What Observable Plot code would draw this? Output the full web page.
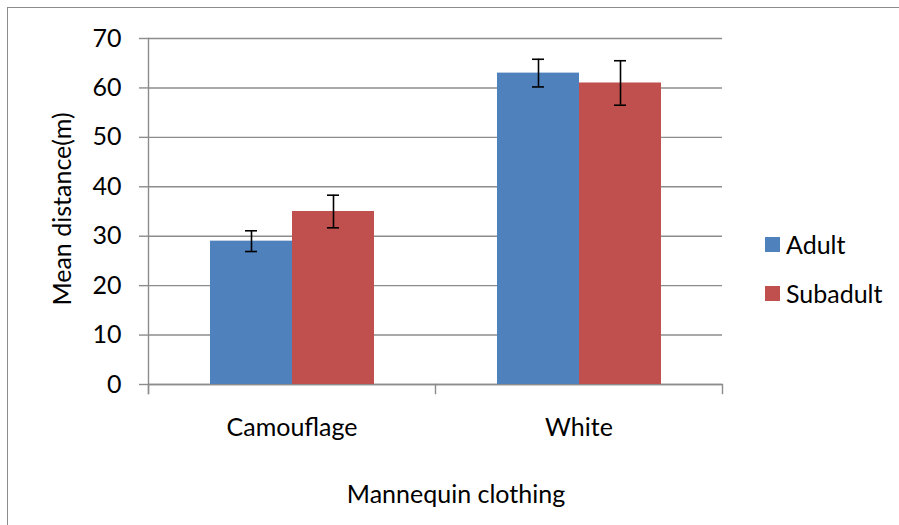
<!DOCTYPE html>
<html>
<head>
<meta charset="utf-8">
<script src="https://cdn.jsdelivr.net/npm/d3@7"></script>
<script src="https://cdn.jsdelivr.net/npm/@observablehq/plot@0.6"></script>
<style>
  html, body { margin: 0; padding: 0; background: #fff; }
  #wrap { position: relative; width: 899px; height: 525px; overflow: hidden; font-family: Lato, "Liberation Sans", sans-serif; color: #000; }
  #border { position: absolute; left: 7px; top: 7px; width: 1000px; height: 1000px; border-left: 1.6px solid #8c8c8c; border-top: 1.6px solid #8c8c8c; }
  #chart { position: absolute; left: 0; top: 0; }
  .lbl { position: absolute; font-size: 25px; white-space: nowrap; line-height: 1; }
  .sw { position: absolute; width: 15px; height: 15px; }
</style>
</head>
<body>
<div id="wrap">
  <div id="border"></div>
  <div id="chart"></div>
</div>
<script>
// ---- data ----
const categories = ["Camouflage", "White"];
const series = ["Adult", "Subadult"];
const adultMeans = [29, 63];
const subadultMeans = [35, 61];
const adultErr = [2.1, 2.8];
const subadultErr = [3.3, 4.5];
const colors = ["#4F81BD", "#C0504D"];
const yTicks = [0, 10, 20, 30, 40, 50, 60, 70];
const xTitle = "Mannequin clothing";
const yTitle = "Mean distance(m)";

// long table built from the arrays
const rows = [];
categories.forEach((c, i) => {
  rows.push({category: c, series: series[0], value: adultMeans[i], err: adultErr[i]});
  rows.push({category: c, series: series[1], value: subadultMeans[i], err: subadultErr[i]});
});

const W = 899, H = 525, mL = 147, mR = 177, mT = 38, mB = 141;
const innerH = H - mT - mB;
const grey = "#8c8c8c";

const chart = Plot.plot({
  width: W, height: H,
  marginLeft: mL, marginRight: mR, marginTop: mT, marginBottom: mB,
  style: {fontFamily: "Lato, 'Liberation Sans', sans-serif", fontSize: "25px", background: "transparent", color: "#000", overflow: "visible"},
  fx: {domain: categories, padding: 0, label: null},
  x: {domain: series, paddingInner: 0, paddingOuter: 0.742, axis: null},
  y: {domain: [0, 70], label: null},
  color: {domain: series, range: colors},
  marks: [
    Plot.gridY(yTicks, {stroke: grey, strokeOpacity: 1, strokeWidth: 1.4}),
    Plot.ruleY([0], {stroke: grey, strokeWidth: 1.4}),
    Plot.frame({anchor: "left", facetAnchor: "left", stroke: grey, strokeWidth: 1.4, insetBottom: -9}),
    Plot.frame({anchor: "left", stroke: grey, strokeWidth: 1.4, insetTop: innerH, insetBottom: -9}),
    Plot.frame({anchor: "right", facetAnchor: "right", stroke: grey, strokeWidth: 1.4, insetTop: innerH, insetBottom: -9}),
    Plot.axisY(yTicks, {tickSize: 9, tickPadding: 18, stroke: grey, strokeWidth: 1.4, label: null, fill: "#000"}),
    Plot.axisFx({anchor: "bottom", tickSize: 0, tickPadding: 34, label: null}),
    Plot.barY(rows, {fx: "category", x: "series", y: "value", fill: "series"}),
    Plot.ruleX(rows, {fx: "category", x: "series", y1: d => d.value - d.err, y2: d => d.value + d.err, stroke: "#000", strokeWidth: 1.6}),
    Plot.tickY(rows, {fx: "category", x: "series", y: d => d.value - d.err, stroke: "#000", strokeWidth: 1.6, insetLeft: 35, insetRight: 35}),
    Plot.tickY(rows, {fx: "category", x: "series", y: d => d.value + d.err, stroke: "#000", strokeWidth: 1.6, insetLeft: 35, insetRight: 35})
  ]
});
document.getElementById("chart").appendChild(chart);

const wrap = document.getElementById("wrap");
// axis titles
const xt = document.createElement("div");
xt.className = "lbl"; xt.textContent = xTitle;
xt.style.left = "456px"; xt.style.top = "493px"; xt.style.transform = "translate(-50%, -50%)";
wrap.appendChild(xt);
const yt = document.createElement("div");
yt.className = "lbl"; yt.textContent = yTitle;
yt.style.left = "61px"; yt.style.top = "209px"; yt.style.transform = "translate(-50%, -50%) rotate(-90deg)";
wrap.appendChild(yt);
// legend
series.forEach((s, i) => {
  const top = 237 + i * 49;
  const sw = document.createElement("div");
  sw.className = "sw"; sw.style.left = "765px"; sw.style.top = top + "px"; sw.style.background = colors[i];
  wrap.appendChild(sw);
  const t = document.createElement("div");
  t.className = "lbl"; t.textContent = s;
  t.style.left = "786px"; t.style.top = (top + 7) + "px"; t.style.transform = "translateY(-50%)";
  wrap.appendChild(t);
});
</script>
</body>
</html>
